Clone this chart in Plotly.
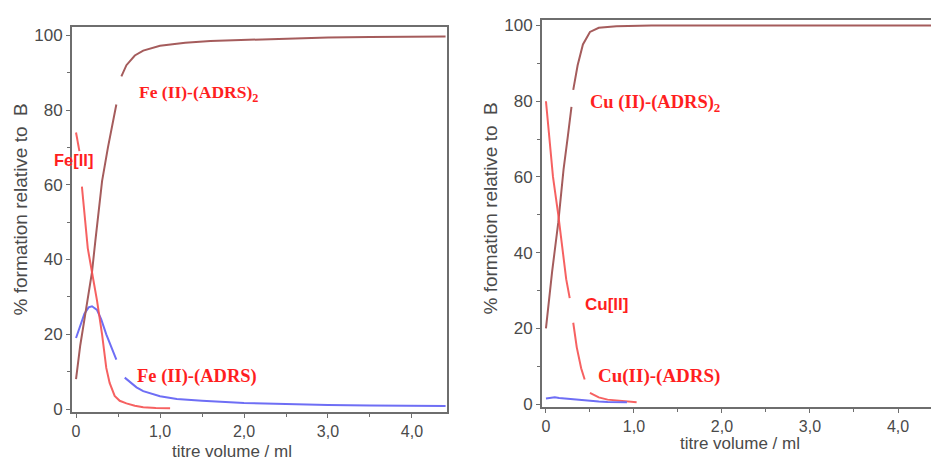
import plotly.graph_objects as go

# ---------------- data: Fe system (left panel) ----------------
fe_free_x = [0, 0.04, None, 0.07, 0.10, 0.14, 0.19, 0.25, 0.31, 0.36, 0.40, 0.46, 0.52, 0.60, 0.70, 0.80, 0.95, 1.12]
fe_free_y = [74, 69, None, 59.5, 52, 43, 36.6, 29, 20, 11, 7, 3.5, 2.2, 1.5, 0.9, 0.5, 0.3, 0.2]

fe_ml2_x = [0, 0.05, 0.10, 0.19, 0.23, 0.31, 0.38, 0.44, 0.48, None, 0.54, 0.60, 0.70, 0.80, 1.0, 1.3, 1.6, 2.0, 2.5, 3.0, 3.5, 4.0, 4.4]
fe_ml2_y = [8, 17, 24, 36.6, 45, 61, 70, 77, 81.5, None, 89, 92, 94.6, 95.9, 97.2, 98.0, 98.5, 98.8, 99.2, 99.4, 99.55, 99.65, 99.7]

fe_ml_x = [0, 0.05, 0.10, 0.15, 0.19, 0.25, 0.30, 0.36, 0.42, 0.48, None, 0.58, 0.65, 0.72, 0.80, 0.90, 1.0, 1.2, 1.5, 2.0, 2.5, 3.0, 3.5, 4.0, 4.4]
fe_ml_y = [19, 22.5, 25.5, 27.2, 27.5, 26.5, 24, 20, 16.5, 13.2, None, 8.4, 7, 5.8, 4.8, 4.0, 3.4, 2.7, 2.2, 1.6, 1.3, 1.1, 0.95, 0.85, 0.8]

# ---------------- data: Cu system (right panel) ----------------
cu_free_x = [0, 0.08, 0.14, 0.19, 0.23, 0.27, None, 0.31, 0.35, 0.40, 0.44, None, 0.50, 0.60, 0.70, 0.85, 1.03]
cu_free_y = [80, 60, 50, 40, 33, 28, None, 21.5, 15, 9.5, 6.5, None, 3, 1.8, 1.2, 0.8, 0.5]

cu_ml2_x = [0, 0.07, 0.14, 0.20, 0.25, 0.29, None, 0.31, 0.36, 0.42, 0.50, 0.60, 0.80, 1.2, 2.0, 3.0, 4.0, 4.4]
cu_ml2_y = [20, 35, 48, 62, 71, 78.5, None, 83, 89.5, 95, 98.3, 99.4, 99.8, 100, 100, 100, 100, 100]

cu_ml_x = [0, 0.05, 0.10, 0.15, 0.20, 0.25, 0.30, 0.40, 0.50, 0.60, 0.70, 0.80, 0.92]
cu_ml_y = [1.5, 1.6, 1.8, 1.6, 1.5, 1.4, 1.3, 1.0, 0.9, 0.7, 0.6, 0.5, 0.5]

x_tickvals = [0, 1, 2, 3, 4]
x_ticktext = ["0", "1,0", "2,0", "3,0", "4,0"]
y_tickvals = [0, 20, 40, 60, 80, 100]

RED = "rgba(245,80,80,0.9)"
BROWN = "rgb(165,92,92)"
BLUE = "rgb(110,110,245)"
LABEL_RED = "#ff1f1f"
AXIS_GRAY = "#6e6e6e"
TEXT_GRAY = "#4a4a4a"

fig = go.Figure()

def add(x, y, color, xa, ya):
    fig.add_trace(go.Scatter(x=x, y=y, mode="lines", line=dict(color=color, width=2),
                             xaxis=xa, yaxis=ya, showlegend=False, connectgaps=False,
                             hoverinfo="skip"))

add(fe_ml_x, fe_ml_y, BLUE, "x", "y")
add(fe_ml2_x, fe_ml2_y, BROWN, "x", "y")
add(fe_free_x, fe_free_y, RED, "x", "y")
add(cu_ml2_x, cu_ml2_y, BROWN, "x2", "y2")
add(cu_free_x, cu_free_y, RED, "x2", "y2")
add(cu_ml_x, cu_ml_y, BLUE, "x2", "y2")

W, H = 931, 465

def xaxis_cfg(domain, rng, mirror):
    return dict(domain=domain, range=rng, showgrid=False, zeroline=False,
                showline=True, linecolor=AXIS_GRAY, linewidth=2, mirror=mirror,
                ticks="outside", ticklen=4, tickcolor=AXIS_GRAY, tickwidth=1,
                tickvals=x_tickvals, ticktext=x_ticktext,
                minor=dict(dtick=0.5, tick0=0, ticks="outside", ticklen=3, tickcolor=AXIS_GRAY),
                tickfont=dict(family="Liberation Sans, Arial", size=16, color=TEXT_GRAY),
                fixedrange=True)

def yaxis_cfg(domain, rng, anchor, mirror):
    return dict(domain=domain, range=rng, anchor=anchor, showgrid=False, zeroline=False,
                showline=True, linecolor=AXIS_GRAY, linewidth=2, mirror=mirror,
                ticks="outside", ticklen=4, tickcolor=AXIS_GRAY, tickwidth=1,
                tickvals=y_tickvals,
                minor=dict(dtick=10, tick0=0, ticks="outside", ticklen=3, tickcolor=AXIS_GRAY),
                tickfont=dict(family="Liberation Sans, Arial", size=17, color=TEXT_GRAY),
                fixedrange=True)

fig.update_layout(
    width=W, height=H,
    margin=dict(l=0, r=0, t=0, b=0),
    paper_bgcolor="white", plot_bgcolor="white",
    xaxis=dict(**xaxis_cfg([72 / W, 447 / W], [-0.048, 4.417], True), anchor="y"),
    yaxis=yaxis_cfg([(H - 418) / H, (H - 25) / H], [-0.8, 102.1], "x", True),
    xaxis2=dict(**xaxis_cfg([542 / W, 1.0], [-0.045, 4.375], True), anchor="y2"),
    yaxis2=yaxis_cfg([(H - 413) / H, (H - 17) / H], [-0.78, 101.55], "x2", False),
)

serif = "Liberation Serif, Times New Roman, serif"
sans = "Liberation Sans, Arial, sans-serif"
ann = []
def label(text, x, y, xr, yr, family, size):
    ann.append(dict(text=text, x=x, y=y, xref=xr, yref=yr, xanchor="left", yanchor="middle",
                    showarrow=False, font=dict(family=family, size=size, color=LABEL_RED)))

label("<b>Fe (II)-(ADRS)<sub>2</sub></b>", 0.726, 84.3, "x", "y", serif, 17.5)
label("<b>Fe[II]</b>", 52 / W, (H - 160) / H, "paper", "paper", sans, 16.5)
label("<b>Fe (II)-(ADRS)</b>", 0.70, 8.6, "x", "y", serif, 18.5)
label("<b>Cu (II)-(ADRS)<sub>2</sub></b>", 0.477, 79.3, "x2", "y2", serif, 18.5)
label("<b>Cu[II]</b>", 0.42, 26.4, "x2", "y2", sans, 17)
label("<b>Cu(II)-(ADRS)</b>", 0.57, 7.5, "x2", "y2", serif, 19)

# axis titles
for xc, ycen in [(20, 211), (490, 210)]:
    ann.append(dict(text="% formation relative to  B", x=xc / W, y=(H - ycen) / H,
                    xref="paper", yref="paper", xanchor="center", yanchor="middle",
                    textangle=-90, showarrow=False,
                    font=dict(family=sans, size=19, color=TEXT_GRAY)))
for xc, ycen in [(232, 458), (740, 450)]:
    ann.append(dict(text="titre volume / ml", x=xc / W, y=(H - ycen) / H,
                    xref="paper", yref="paper", xanchor="center", yanchor="middle",
                    showarrow=False, font=dict(family=sans, size=17, color=TEXT_GRAY)))

fig.update_layout(annotations=ann)
fig.write_html("out.html")
